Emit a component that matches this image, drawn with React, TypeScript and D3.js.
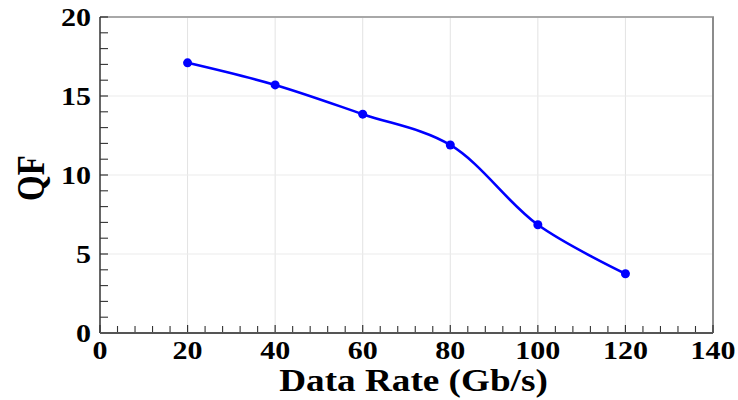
import React from "react";
import * as d3 from "d3";

const dataRates = [20, 40, 60, 80, 100, 120];
const qfValues = [17.1, 15.7, 13.85, 11.9, 6.85, 3.75];
const xTicks = [0, 20, 40, 60, 80, 100, 120, 140];
const yTicks = [0, 5, 10, 15, 20];
const xTitle = "Data Rate (Gb/s)";
const yTitle = "QF";

const W = 738;
const H = 400;
const M = { left: 100, right: 25, top: 17, bottom: 67 };
const FONT = "'Liberation Serif', 'Times New Roman', serif";
const SX = 1.2;

export default function App() {
  const x = d3.scaleLinear().domain([0, 140]).range([M.left, W - M.right]);
  const y = d3.scaleLinear().domain([0, 20]).range([H - M.bottom, M.top]);
  const pts = dataRates.map((d, i) => [x(d), y(qfValues[i])] as [number, number]);
  const line = d3.line().curve(d3.curveCatmullRom.alpha(0.5))(pts) || "";
  const xMinor = d3.range(0, 141, 4).filter((v) => v % 20 !== 0);
  const yMinor = d3.range(0, 21, 1).filter((v) => v % 5 !== 0);
  const x0 = x(0), x1 = x(140), y0 = y(0), y1 = y(20);
  return (
    <svg width={W} height={H} style={{ position: "absolute", left: 0, top: 0, background: "#fff" }}>
      {/* grid */}
      {xTicks.filter((t) => t > 0 && t < 140).map((t) => (
        <line key={"gx" + t} x1={x(t)} x2={x(t)} y1={y1} y2={y0} stroke="#e3e3e3" strokeWidth={1} />
      ))}
      {yTicks.filter((t) => t > 0 && t < 20).map((t) => (
        <line key={"gy" + t} x1={x0} x2={x1} y1={y(t)} y2={y(t)} stroke="#ebebeb" strokeWidth={1.2} />
      ))}
      {/* frame */}
      <line x1={x0} x2={x1 + 1} y1={y1} y2={y1} stroke="#a8a8a8" strokeWidth={2} />
      <line x1={x1} x2={x1} y1={y1} y2={y0} stroke="#8c8c8c" strokeWidth={2} />
      {/* ticks */}
      {xTicks.map((t) => (
        <line key={"tx" + t} x1={x(t)} x2={x(t)} y1={y0} y2={y0 - 8} stroke="#333" strokeWidth={1.2} />
      ))}
      {xMinor.map((t) => (
        <line key={"mx" + t} x1={x(t)} x2={x(t)} y1={y0} y2={y0 - 7} stroke="#333" strokeWidth={1.1} />
      ))}
      {yTicks.map((t) => (
        <line key={"ty" + t} x1={x0} x2={x0 + 8} y1={y(t)} y2={y(t)} stroke="#333" strokeWidth={1.2} />
      ))}
      {yMinor.map((t) => (
        <line key={"my" + t} x1={x0} x2={x0 + 8} y1={y(t)} y2={y(t)} stroke="#333" strokeWidth={1.1} />
      ))}
      <line x1={x0} x2={x0} y1={y1} y2={y0} stroke="#333" strokeWidth={1.5} />
      <line x1={x0} x2={x1} y1={y0} y2={y0} stroke="#555" strokeWidth={2} />
      {/* tick labels */}
      {xTicks.map((t) => (
        <text key={"lx" + t} transform={`translate(${x(t)},${y0 + 26}) scale(${SX},1)`} textAnchor="middle"
          fontFamily={FONT} fontWeight="bold" fontSize={25} fill="#000">{t}</text>
      ))}
      {yTicks.map((t) => (
        <text key={"ly" + t} transform={`translate(${x0 - 9},${y(t) + 9}) scale(${SX},1)`} textAnchor="end"
          fontFamily={FONT} fontWeight="bold" fontSize={25} fill="#000">{t}</text>
      ))}
      {/* titles */}
      <text transform={`translate(${(x0 + x1) / 2 + 7},${H - 9}) scale(${SX},1)`} textAnchor="middle"
        fontFamily={FONT} fontWeight="bold" fontSize={31} fill="#000">{xTitle}</text>
      <text transform={`translate(44,${(y0 + y1) / 2 + 3}) scale(${SX},1) rotate(-90)`} textAnchor="middle"
        fontFamily={FONT} fontWeight="bold" fontSize={33} fill="#000">{yTitle}</text>
      {/* series */}
      <path d={line} fill="none" stroke="#0000ff" strokeWidth={2.6} />
      {pts.map((p, i) => (
        <circle key={"p" + i} cx={p[0]} cy={p[1]} r={4.5} fill="#0000ff" />
      ))}
    </svg>
  );
}
